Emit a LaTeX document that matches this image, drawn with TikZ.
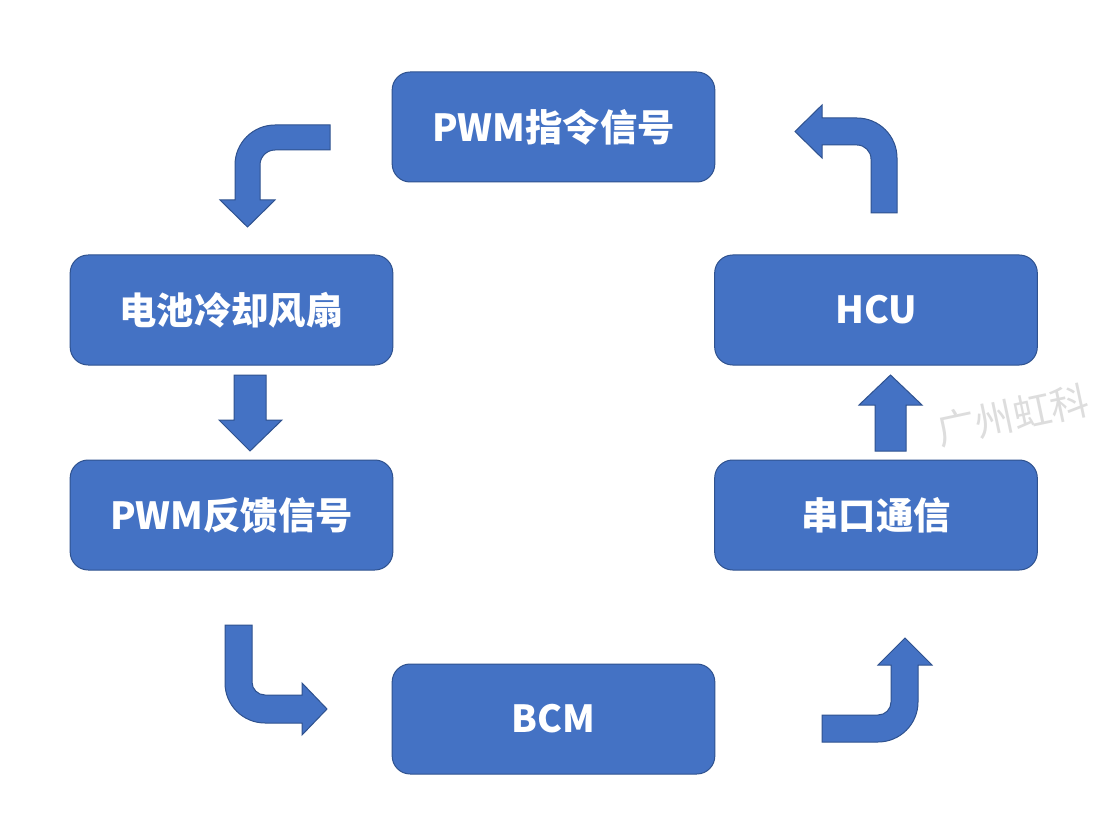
\documentclass[tikz,border=0pt]{standalone}
\usepackage{fontspec}
\newfontfamily\cjk{Noto Sans CJK SC}
\definecolor{boxfill}{HTML}{4472C4}
\definecolor{boxline}{HTML}{2F528F}
\definecolor{wmark}{HTML}{DDDDDD}
\begin{document}
\begin{tikzpicture}[x=0.75pt,y=-0.75pt,
  blockbox/.style={rectangle, rounded corners=13.5pt, fill=boxfill, draw=boxline, line width=0.75pt,
    minimum width=242pt, minimum height=82.5pt, inner sep=0pt, text=white,
    font=\cjk\bfseries\fontsize{28}{32}\selectfont},
  blockarrow/.style={fill=boxfill, draw=boxline, line width=0.75pt, line join=miter}]
\useasboundingbox (0,0) rectangle (1106,834);
\fill[white] (0,0) rectangle (1106,834);

\node[blockbox] (cmd) at (553.5,127) {PWM指令信号};
\node[blockbox] (fan) at (231.5,310) {电池冷却风扇};
\node[blockbox] (fb)  at (231.5,515) {PWM反馈信号};
\node[blockbox] (bcm) at (553.5,719) {BCM};
\node[blockbox] (hcu) at (876,310) {HCU};
\node[blockbox] (ser) at (876,515) {串口通信};

% top-left bent arrow (cmd -> fan)
\draw[blockarrow] (330,125) -- (275,125) .. controls (252.9,125) and (235,142.9) .. (235,165)
  -- (235,200) -- (220,200) -- (247.5,227) -- (275,200) -- (260,200) -- (260,165)
  .. controls (260,156.7) and (266.7,150) .. (275,150) -- (330,150) -- cycle;

% fan -> fb straight arrow
\draw[blockarrow] (234,375) -- (266,375) -- (266,420) -- (282,420) -- (250,451) -- (219,420) -- (234,420) -- cycle;

% bottom-left bent arrow (fb -> bcm)
\draw[blockarrow] (225,625) -- (225,683) .. controls (225,705.1) and (242.9,723) .. (265,723)
  -- (302,723) -- (302,735) -- (327,709) -- (302,683) -- (302,695) -- (265,695)
  .. controls (257.8,695) and (252,689.2) .. (252,682) -- (252,625) -- cycle;

% bottom-right bent arrow (bcm -> ser)
\draw[blockarrow] (822,715) -- (878,715) .. controls (885.2,715) and (891,709.2) .. (891,702)
  -- (891,665) -- (878,665) -- (905,638) -- (932,665) -- (918,665) -- (918,702)
  .. controls (918,724.1) and (900.1,742) .. (878,742) -- (822,742) -- cycle;

% ser -> hcu straight arrow
\draw[blockarrow] (875,451) -- (906,451) -- (906,405) -- (922,405) -- (890.5,375) -- (859,405) -- (875,405) -- cycle;

% top-right bent arrow (hcu -> cmd)
\draw[blockarrow] (871,213) -- (871,159) .. controls (871,151.3) and (864.7,145) .. (857,145)
  -- (822,145) -- (822,158) -- (795,131.5) -- (822,105) -- (822,118) -- (857,118)
  .. controls (879.1,118) and (897,135.9) .. (897,158) -- (897,213) -- cycle;

% watermark
\node[text=wmark, rotate=12, font=\cjk\fontsize{29}{32}\selectfont, inner sep=0pt] (wm) at (1013,415) {广州虹科};
\end{tikzpicture}
\end{document}
